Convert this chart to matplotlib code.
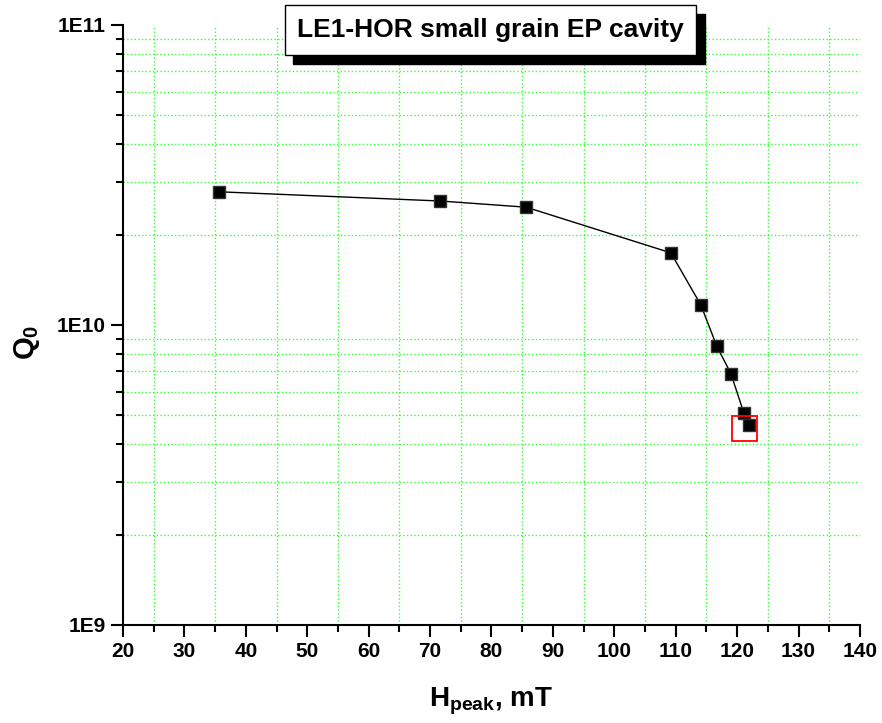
import matplotlib
matplotlib.use('Agg')
import matplotlib.pyplot as plt
import matplotlib.ticker as ticker
from matplotlib.patches import Rectangle
import numpy as np

plt.rcParams['font.family'] = ['Liberation Sans', 'DejaVu Sans']
plt.rcParams['font.weight'] = 'bold'
plt.rcParams['mathtext.fontset'] = 'custom'
plt.rcParams['mathtext.rm'] = 'Liberation Sans:bold'
plt.rcParams['mathtext.bf'] = 'Liberation Sans:bold'
plt.rcParams['mathtext.it'] = 'Liberation Sans:bold'

# data
h_peak = [35.64, 71.69, 85.65, 109.2, 114.09, 116.69, 118.97, 121.09, 121.97]
q0 = [2.78e10, 2.59e10, 2.47e10, 1.74e10, 1.166e10, 8.49e9, 6.89e9, 5.09e9, 4.64e9]
# red box marking the last point
mark_h = [121.09]
mark_q = [4.55e9]

title = 'LE1-HOR small grain EP cavity'

fig = plt.figure(figsize=(8.82, 7.23), dpi=100)
W, H = 882, 723
ax = fig.add_axes([123/W, (H-625)/H, (860-123)/W, 600/H])

ax.plot(h_peak, q0, color='black', lw=1, marker='s', ms=8,
        mfc='black', mec='#333333', zorder=3)
ax.plot(mark_h, mark_q, ls='none', marker='s', ms=18, mfc='none',
        mec='red', mew=1.3, zorder=4)

ax.set_yscale('log')
ax.set_xlim(20, 140)
ax.set_ylim(1e9, 1e11)

ax.xaxis.set_major_locator(ticker.MultipleLocator(10))
ax.xaxis.set_minor_locator(ticker.MultipleLocator(5))
ax.yaxis.set_major_locator(ticker.FixedLocator([1e9, 1e10, 1e11]))
ax.yaxis.set_minor_locator(ticker.LogLocator(base=10, subs=np.arange(2, 10)))
ax.yaxis.set_major_formatter(ticker.FixedFormatter(['1E9', '1E10', '1E11']))
ax.yaxis.set_minor_formatter(ticker.NullFormatter())

for side in ['top', 'right']:
    ax.spines[side].set_visible(False)
for side in ['left', 'bottom']:
    ax.spines[side].set_linewidth(1.5)

ax.tick_params(which='major', direction='out', length=8.5, width=1.5,
               labelsize=15, pad=4)
ax.tick_params(which='minor', direction='out', length=5, width=1.5)
for lab in ax.get_xticklabels() + ax.get_yticklabels():
    lab.set_fontweight('bold')

# grid only on minor ticks
ax.grid(which='minor', color='#33ff33', ls=':', lw=1)
ax.grid(which='major', visible=False)

# axis titles placed by hand
ax.text((491-123)/737, (625-701)/600, r'$\mathrm{H_{peak}}$, mT', transform=ax.transAxes,
        ha='center', va='center', fontsize=20, fontweight='bold')
ax.text((27-123)/737, (625-342)/600, r'$\mathrm{Q_0}$', transform=ax.transAxes,
        ha='center', va='center', rotation=90, fontsize=21, fontweight='bold')

# title box with shadow
fig.add_artist(Rectangle((293/W, (H-64)/H), 412/W, 50/H, transform=fig.transFigure,
                         facecolor='black', edgecolor='black', zorder=5))
fig.add_artist(Rectangle((285/W, (H-55)/H), 411/W, 50/H, transform=fig.transFigure,
                         facecolor='white', edgecolor='black', lw=1, zorder=6))
fig.text(490.5/W, (H-30)/H, title, ha='center', va='center', fontsize=19,
         fontweight='bold', zorder=7)

fig.savefig('out.png', dpi=100)
